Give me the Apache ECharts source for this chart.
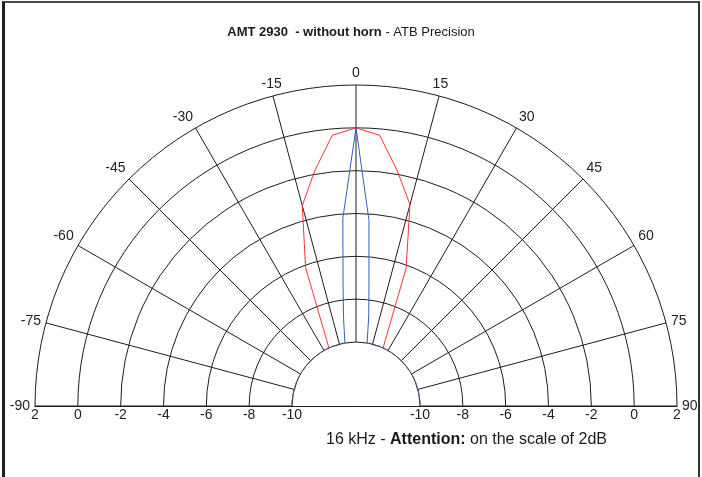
<!DOCTYPE html>
<html>
<head>
<meta charset="utf-8">
<script src="https://cdn.jsdelivr.net/npm/echarts@6/dist/echarts.min.js"></script>
<style>
  html, body { margin: 0; padding: 0; background: #fff; }
  #chart { position: absolute; left: 0; top: 0; width: 702px; height: 477px; }
  #frame {
    position: absolute; left: 2px; top: 1px; width: 698px; height: 476px;
    box-sizing: border-box; pointer-events: none;
    border-left: 3px solid #1e1e1e; border-top: 2px solid #4a4a4a; border-right: 2px solid #333;
  }
</style>
</head>
<body>
<div id="chart"></div>
<div id="frame"></div>
<script>
// Angular grid: -90..90 degrees, spokes every 15 degrees
const angleMin = -90;
const angleMax = 90;
const angleStep = 15;

// Radial scale in dB (2 dB per ring), inner hole at -10 dB
const levelMin = -10;
const levelMax = 2;
const levelStep = 2;

// Red curve: angle (deg) and level (dB)
const redAngles = [-90, -85, -80, -75, -70, -65, -60, -55, -50, -45, -40, -35, -30, -25,
                   -20, -15, -10, -5, 0, 5, 10, 15, 20,
                   25, 30, 35, 40, 45, 50, 55, 60, 65, 70, 75, 80, 85, 90];
const redLevels = [-10, -10, -10, -10, -10, -10, -10, -10, -10, -10, -10, -10, -10, -10,
                   -6.1, -3.3, -1.85, -0.3, 0, -0.3, -1.85, -3.25, -6.15,
                   -10, -10, -10, -10, -10, -10, -10, -10, -10, -10, -10, -10, -10, -10];

// Blue curve: angle (deg) and level (dB)
const blueAngles = [-90, -85, -80, -75, -70, -65, -60, -55, -50, -45, -40, -35, -30, -25, -20, -15,
                    -10, -8, -6, -4, 0, 4, 6, 8, 10,
                    15, 20, 25, 30, 35, 40, 45, 50, 55, 60, 65, 70, 75, 80, 85, 90];
const blueLevels = [-10, -10, -10, -10, -10, -10, -10, -10, -10, -10, -10, -10, -10, -10, -10, -10,
                    -10, -8.8, -7.2, -4.2, 0, -4.3, -7.2, -8.7, -10,
                    -10, -10, -10, -10, -10, -10, -10, -10, -10, -10, -10, -10, -10, -10, -10, -10];

const titleBold = 'AMT 2930  - without horn';
const titlePlain = ' - ATB Precision';
const noteLead = '16 kHz - ';
const noteBold = 'Attention:';
const noteTail = ' on the scale of 2dB';

const FONT = '"Liberation Sans", Arial, sans-serif';
const GRID = '#1c1c1c';
const CENTER = [356, 406];
const RADIUS = [64, 321];

const pairs = (levels, angles) => levels.map((v, i) => [v, angles[i]]);

const chart = echarts.init(document.getElementById('chart'), null, { renderer: 'canvas' });

chart.setOption({
  backgroundColor: '#fff',
  animation: false,
  textStyle: { fontFamily: FONT },
  title: [
    {
      text: '{b|' + titleBold + '}{n|' + titlePlain + '}',
      left: 'center',
      top: 21,
      textStyle: {
        rich: {
          b: { fontFamily: FONT, fontWeight: 'bold', fontSize: 13, color: '#1a1a1a' },
          n: { fontFamily: FONT, fontWeight: 'normal', fontSize: 13, color: '#1a1a1a' }
        }
      }
    },
    {
      text: '{n|' + noteLead + '}{b|' + noteBold + '}{n|' + noteTail + '}',
      left: 321,
      top: 427,
      textStyle: {
        rich: {
          b: { fontFamily: FONT, fontWeight: 'bold', fontSize: 16, color: '#1a1a1a' },
          n: { fontFamily: FONT, fontWeight: 'normal', fontSize: 16, color: '#1a1a1a' }
        }
      }
    }
  ],
  // baseline across the full diameter, including the hole
  grid: { left: CENTER[0] - RADIUS[1], right: 702 - (CENTER[0] + RADIUS[1]), top: CENTER[1] - 1, height: 1, containLabel: false },
  xAxis: {
    type: 'value', min: 0, max: 1,
    axisLine: { show: true, lineStyle: { color: GRID, width: 1 } },
    axisTick: { show: false }, axisLabel: { show: false }, splitLine: { show: false }
  },
  yAxis: { type: 'value', show: false },
  polar: [
    { center: CENTER, radius: RADIUS },
    { center: CENTER, radius: RADIUS }
  ],
  angleAxis: [
    {
      polarIndex: 0,
      type: 'value',
      min: angleMin, max: angleMax, interval: angleStep,
      startAngle: 180, endAngle: 0, clockwise: true,
      axisLine: { show: false },
      axisTick: { show: false },
      splitLine: { show: true, lineStyle: { color: GRID, width: 1 } },
      axisLabel: { show: true, fontSize: 14, color: '#222', fontFamily: FONT, margin: 5 }
    },
    {
      polarIndex: 1,
      type: 'value',
      min: angleMin, max: angleMax, interval: angleStep,
      startAngle: 0, endAngle: 180, clockwise: false,
      axisLine: { show: false }, axisTick: { show: false },
      splitLine: { show: false }, axisLabel: { show: false }
    }
  ],
  radiusAxis: [
    {
      polarIndex: 0,
      type: 'value',
      min: levelMin, max: levelMax, interval: levelStep,
      axisLine: { show: true, lineStyle: { color: GRID, width: 1 } },
      axisTick: { show: false },
      splitLine: { show: true, lineStyle: { color: GRID, width: 1 } },
      axisLabel: { show: true, fontSize: 14, color: '#222', fontFamily: FONT, margin: 2 }
    },
    {
      polarIndex: 1,
      type: 'value',
      min: levelMin, max: levelMax, interval: levelStep,
      axisLine: { show: false }, axisTick: { show: false },
      splitLine: { show: false },
      axisLabel: { show: true, fontSize: 14, color: '#222', fontFamily: FONT, margin: -16 }
    }
  ],
  series: [
    {
      name: 'red', type: 'line', coordinateSystem: 'polar', polarIndex: 0,
      data: pairs(redLevels, redAngles),
      symbol: 'none', clip: false,
      lineStyle: { color: '#ff3030', width: 1 }
    },
    {
      name: 'blue', type: 'line', coordinateSystem: 'polar', polarIndex: 0,
      data: pairs(blueLevels, blueAngles),
      symbol: 'none', clip: false,
      lineStyle: { color: '#2f5fc4', width: 1 }
    }
  ]
});
</script>
</body>
</html>
